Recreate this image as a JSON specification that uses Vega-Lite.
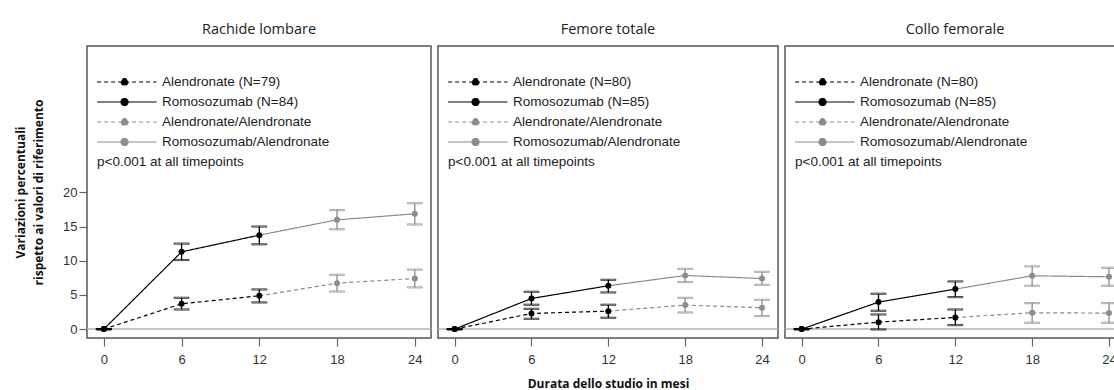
{
  "$schema": "https://vega.github.io/schema/vega-lite/v6.json",
  "background": "white",
  "padding": {"left": 13, "top": 20, "right": 0, "bottom": 0},
  "spacing": 7,
  "bounds": "flush",
  "config": {
    "view": {"stroke": "#555555", "strokeWidth": 1.5},
    "font": "Liberation Sans",
    "title": {"font": "Open Sans", "fontSize": 14.5, "fontWeight": "normal", "color": "#222222", "offset": 9},
    "axis": {"grid": false, "domain": false, "tickColor": "#666666", "tickSize": 8, "tickWidth": 1.2, "labelFont": "Liberation Sans", "labelFontSize": 13, "labelColor": "#333333", "titleFont": "Open Sans", "titleFontSize": 12, "titleFontWeight": "bold", "titleColor": "#111111"},
    "axisX": {"labelPadding": 7},
    "axisY": {"labelPadding": 2}
  },
  "resolve": {"scale": {"x": "independent", "y": "independent", "color": "independent", "strokeDash": "independent", "stroke": "independent", "fill": "independent"}},
  "data": {"values": [
    {"site": "RL", "series": "Alendronate (N=79)", "phase": 1, "month": 0, "mean": 0, "lo": 0, "hi": 0},
    {"site": "RL", "series": "Alendronate (N=79)", "phase": 1, "month": 6, "mean": 3.7, "lo": 2.87, "hi": 4.58},
    {"site": "RL", "series": "Alendronate (N=79)", "phase": 1, "month": 12, "mean": 4.87, "lo": 3.9, "hi": 5.8},
    {"site": "RL", "series": "Alendronate/Alendronate", "phase": 2, "month": 12, "mean": 4.87, "lo": 3.9, "hi": 5.8},
    {"site": "RL", "series": "Alendronate/Alendronate", "phase": 2, "month": 18, "mean": 6.72, "lo": 5.5, "hi": 7.94},
    {"site": "RL", "series": "Alendronate/Alendronate", "phase": 2, "month": 24, "mean": 7.4, "lo": 6.1, "hi": 8.7},
    {"site": "RL", "series": "Romosozumab (N=84)", "phase": 1, "month": 0, "mean": 0, "lo": 0, "hi": 0},
    {"site": "RL", "series": "Romosozumab (N=84)", "phase": 1, "month": 6, "mean": 11.3, "lo": 10.1, "hi": 12.5},
    {"site": "RL", "series": "Romosozumab (N=84)", "phase": 1, "month": 12, "mean": 13.74, "lo": 12.4, "hi": 15.0},
    {"site": "RL", "series": "Romosozumab/Alendronate", "phase": 2, "month": 12, "mean": 13.74, "lo": 12.4, "hi": 15.0},
    {"site": "RL", "series": "Romosozumab/Alendronate", "phase": 2, "month": 18, "mean": 15.98, "lo": 14.6, "hi": 17.4},
    {"site": "RL", "series": "Romosozumab/Alendronate", "phase": 2, "month": 24, "mean": 16.86, "lo": 15.3, "hi": 18.4},
    {"site": "FT", "series": "Alendronate (N=80)", "phase": 1, "month": 0, "mean": 0, "lo": 0, "hi": 0},
    {"site": "FT", "series": "Alendronate (N=80)", "phase": 1, "month": 6, "mean": 2.29, "lo": 1.51, "hi": 2.97},
    {"site": "FT", "series": "Alendronate (N=80)", "phase": 1, "month": 12, "mean": 2.63, "lo": 1.66, "hi": 3.56},
    {"site": "FT", "series": "Alendronate/Alendronate", "phase": 2, "month": 12, "mean": 2.63, "lo": 1.66, "hi": 3.56},
    {"site": "FT", "series": "Alendronate/Alendronate", "phase": 2, "month": 18, "mean": 3.51, "lo": 2.43, "hi": 4.58},
    {"site": "FT", "series": "Alendronate/Alendronate", "phase": 2, "month": 24, "mean": 3.12, "lo": 1.9, "hi": 4.29},
    {"site": "FT", "series": "Romosozumab (N=85)", "phase": 1, "month": 0, "mean": 0, "lo": 0, "hi": 0},
    {"site": "FT", "series": "Romosozumab (N=85)", "phase": 1, "month": 6, "mean": 4.48, "lo": 3.56, "hi": 5.46},
    {"site": "FT", "series": "Romosozumab (N=85)", "phase": 1, "month": 12, "mean": 6.34, "lo": 5.36, "hi": 7.21},
    {"site": "FT", "series": "Romosozumab/Alendronate", "phase": 2, "month": 12, "mean": 6.34, "lo": 5.36, "hi": 7.21},
    {"site": "FT", "series": "Romosozumab/Alendronate", "phase": 2, "month": 18, "mean": 7.84, "lo": 6.87, "hi": 8.82},
    {"site": "FT", "series": "Romosozumab/Alendronate", "phase": 2, "month": 24, "mean": 7.4, "lo": 6.48, "hi": 8.38},
    {"site": "CF", "series": "Alendronate (N=80)", "phase": 1, "month": 0, "mean": 0, "lo": 0, "hi": 0},
    {"site": "CF", "series": "Alendronate (N=80)", "phase": 1, "month": 6, "mean": 1.02, "lo": -0.05, "hi": 2.14},
    {"site": "CF", "series": "Alendronate (N=80)", "phase": 1, "month": 12, "mean": 1.7, "lo": 0.58, "hi": 2.87},
    {"site": "CF", "series": "Alendronate/Alendronate", "phase": 2, "month": 12, "mean": 1.7, "lo": 0.58, "hi": 2.87},
    {"site": "CF", "series": "Alendronate/Alendronate", "phase": 2, "month": 18, "mean": 2.39, "lo": 0.93, "hi": 3.8},
    {"site": "CF", "series": "Alendronate/Alendronate", "phase": 2, "month": 24, "mean": 2.34, "lo": 0.93, "hi": 3.8},
    {"site": "CF", "series": "Romosozumab (N=85)", "phase": 1, "month": 0, "mean": 0, "lo": 0, "hi": 0},
    {"site": "CF", "series": "Romosozumab (N=85)", "phase": 1, "month": 6, "mean": 3.95, "lo": 2.68, "hi": 5.17},
    {"site": "CF", "series": "Romosozumab (N=85)", "phase": 1, "month": 12, "mean": 5.85, "lo": 4.68, "hi": 6.97},
    {"site": "CF", "series": "Romosozumab/Alendronate", "phase": 2, "month": 12, "mean": 5.85, "lo": 4.68, "hi": 6.97},
    {"site": "CF", "series": "Romosozumab/Alendronate", "phase": 2, "month": 18, "mean": 7.8, "lo": 6.34, "hi": 9.17},
    {"site": "CF", "series": "Romosozumab/Alendronate", "phase": 2, "month": 24, "mean": 7.65, "lo": 6.34, "hi": 8.97}
  ]},
  "hconcat": [
    {
      "width": 344, "height": 292,
      "title": "Rachide lombare",
      "layer": [
        {"data": {"values": [{}]}, "mark": {"type": "rule", "color": "#b4b4b4", "strokeWidth": 1.5}, "encoding": {"y": {"datum": 0, "type": "quantitative", "scale": {"domain": [-1.3, 41.4], "nice": false, "zero": false}, "axis": {"values": [0, 5, 10, 15, 20], "title": ["Variazioni percentuali", "rispetto ai valori di riferimento"], "titlePadding": 17, "titleLineHeight": 18}}}},
        {"transform": [{"filter": "datum.site === 'RL'"}], "mark": {"type": "line", "strokeWidth": 1.2},
         "encoding": {
           "x": {"field": "month", "type": "quantitative", "scale": {"domain": [-1.3, 25.25], "nice": false, "zero": false}, "axis": {"values": [0, 6, 12, 18, 24], "title": null}},
           "y": {"field": "mean", "type": "quantitative", "scale": {"domain": [-1.3, 41.4], "nice": false, "zero": false}, "axis": {"values": [0, 5, 10, 15, 20], "title": ["Variazioni percentuali", "rispetto ai valori di riferimento"], "titlePadding": 17, "titleLineHeight": 18}},
           "color": {"field": "series", "type": "nominal", "scale": {"domain": ["Alendronate (N=79)", "Romosozumab (N=84)", "Alendronate/Alendronate", "Romosozumab/Alendronate"], "range": ["#000000", "#000000", "#8c8c8c", "#8c8c8c"]},
             "legend": {"orient": "none", "legendX": 10, "legendY": 26, "padding": 0, "title": "p<0.001 at all timepoints", "titleOrient": "bottom", "titleAnchor": "start", "titleFont": "Liberation Sans", "titleFontSize": 13.5, "titleFontWeight": "normal", "titleColor": "#222222", "titlePadding": 6, "titleLimit": 400, "symbolType": "M-1.1,0L5.5,0M1.56,0A0.39,0.39 0 1,0 2.34,0A0.39,0.39 0 1,0 1.56,0Z", "symbolSize": 324, "symbolStrokeWidth": 1.2, "labelFont": "Liberation Sans", "labelFontSize": 13.5, "labelColor": "#222222", "labelOffset": 45, "labelLimit": 400, "rowPadding": 3, "encode": {"symbols": {"update": {"fill": {"signal": "indexof(datum.value,'/')>=0 ? '#8c8c8c' : '#000000'"}, "fillOpacity": {"value": 1}}}}}},
           "strokeDash": {"field": "series", "type": "nominal", "scale": {"domain": ["Alendronate (N=79)", "Romosozumab (N=84)", "Alendronate/Alendronate", "Romosozumab/Alendronate"], "range": [[4, 3], [1, 0], [4, 3], [1, 0]]},
             "legend": {"orient": "none", "legendX": 10, "legendY": 26, "padding": 0, "title": "p<0.001 at all timepoints", "titleOrient": "bottom", "titleAnchor": "start", "titleFont": "Liberation Sans", "titleFontSize": 13.5, "titleFontWeight": "normal", "titleColor": "#222222", "titlePadding": 6, "titleLimit": 400, "symbolType": "M-1.1,0L5.5,0M1.56,0A0.39,0.39 0 1,0 2.34,0A0.39,0.39 0 1,0 1.56,0Z", "symbolSize": 324, "symbolStrokeWidth": 1.2, "labelFont": "Liberation Sans", "labelFontSize": 13.5, "labelColor": "#222222", "labelOffset": 45, "labelLimit": 400, "rowPadding": 3, "encode": {"symbols": {"update": {"fill": {"signal": "indexof(datum.value,'/')>=0 ? '#8c8c8c' : '#000000'"}, "fillOpacity": {"value": 1}}}}}}
         }},
        {"transform": [{"filter": "datum.site === 'RL'"}, {"filter": "datum.phase === 1 || datum.month >= 18"}], "mark": {"type": "rule", "strokeWidth": 1.3},
         "encoding": {
           "x": {"field": "month", "type": "quantitative", "scale": {"domain": [-1.3, 25.25], "nice": false, "zero": false}, "axis": {"values": [0, 6, 12, 18, 24], "title": null}},
           "y": {"field": "lo", "type": "quantitative", "scale": {"domain": [-1.3, 41.4], "nice": false, "zero": false}, "axis": {"values": [0, 5, 10, 15, 20], "title": ["Variazioni percentuali", "rispetto ai valori di riferimento"], "titlePadding": 17, "titleLineHeight": 18}},
           "y2": {"field": "hi"},
           "stroke": {"field": "phase", "type": "nominal", "scale": {"domain": [1, 2], "range": ["#000000", "#8c8c8c"]}, "legend": null}
         }},
        {"transform": [{"filter": "datum.site === 'RL'"}, {"filter": "datum.phase === 1 || datum.month >= 18"}, {"fold": ["lo", "hi"], "as": ["bound", "val"]}], "mark": {"type": "tick", "orient": "horizontal", "size": 15, "thickness": 1.2},
         "encoding": {
           "x": {"field": "month", "type": "quantitative", "scale": {"domain": [-1.3, 25.25], "nice": false, "zero": false}, "axis": {"values": [0, 6, 12, 18, 24], "title": null}},
           "y": {"field": "val", "type": "quantitative", "scale": {"domain": [-1.3, 41.4], "nice": false, "zero": false}, "axis": {"values": [0, 5, 10, 15, 20], "title": ["Variazioni percentuali", "rispetto ai valori di riferimento"], "titlePadding": 17, "titleLineHeight": 18}},
           "stroke": {"field": "phase", "type": "nominal", "scale": {"domain": [1, 2], "range": ["#000000", "#8c8c8c"]}, "legend": null},
           "color": {"value": null}
         }},
        {"transform": [{"filter": "datum.site === 'RL'"}, {"filter": "datum.phase === 1 || datum.month >= 18"}], "mark": {"type": "circle", "size": 36, "opacity": 1},
         "encoding": {
           "x": {"field": "month", "type": "quantitative", "scale": {"domain": [-1.3, 25.25], "nice": false, "zero": false}, "axis": {"values": [0, 6, 12, 18, 24], "title": null}},
           "y": {"field": "mean", "type": "quantitative", "scale": {"domain": [-1.3, 41.4], "nice": false, "zero": false}, "axis": {"values": [0, 5, 10, 15, 20], "title": ["Variazioni percentuali", "rispetto ai valori di riferimento"], "titlePadding": 17, "titleLineHeight": 18}},
           "fill": {"field": "phase", "type": "nominal", "scale": {"domain": [1, 2], "range": ["#000000", "#8c8c8c"]}, "legend": null}
         }}
      ]
    },
    {
      "width": 340, "height": 292,
      "title": "Femore totale",
      "layer": [
        {"data": {"values": [{}]}, "mark": {"type": "rule", "color": "#b4b4b4", "strokeWidth": 1.5}, "encoding": {"y": {"datum": 0, "type": "quantitative", "scale": {"domain": [-1.3, 41.4], "nice": false, "zero": false}, "axis": null}}},
        {"transform": [{"filter": "datum.site === 'FT'"}], "mark": {"type": "line", "strokeWidth": 1.2},
         "encoding": {
           "x": {"field": "month", "type": "quantitative", "scale": {"domain": [-1.3, 25.25], "nice": false, "zero": false}, "axis": {"values": [0, 6, 12, 18, 24], "title": "Durata dello studio in mesi", "titlePadding": 12}},
           "y": {"field": "mean", "type": "quantitative", "scale": {"domain": [-1.3, 41.4], "nice": false, "zero": false}, "axis": null},
           "color": {"field": "series", "type": "nominal", "scale": {"domain": ["Alendronate (N=80)", "Romosozumab (N=85)", "Alendronate/Alendronate", "Romosozumab/Alendronate"], "range": ["#000000", "#000000", "#8c8c8c", "#8c8c8c"]},
             "legend": {"orient": "none", "legendX": 10, "legendY": 26, "padding": 0, "title": "p<0.001 at all timepoints", "titleOrient": "bottom", "titleAnchor": "start", "titleFont": "Liberation Sans", "titleFontSize": 13.5, "titleFontWeight": "normal", "titleColor": "#222222", "titlePadding": 6, "titleLimit": 400, "symbolType": "M-1.1,0L5.5,0M1.56,0A0.39,0.39 0 1,0 2.34,0A0.39,0.39 0 1,0 1.56,0Z", "symbolSize": 324, "symbolStrokeWidth": 1.2, "labelFont": "Liberation Sans", "labelFontSize": 13.5, "labelColor": "#222222", "labelOffset": 45, "labelLimit": 400, "rowPadding": 3, "encode": {"symbols": {"update": {"fill": {"signal": "indexof(datum.value,'/')>=0 ? '#8c8c8c' : '#000000'"}, "fillOpacity": {"value": 1}}}}}},
           "strokeDash": {"field": "series", "type": "nominal", "scale": {"domain": ["Alendronate (N=80)", "Romosozumab (N=85)", "Alendronate/Alendronate", "Romosozumab/Alendronate"], "range": [[4, 3], [1, 0], [4, 3], [1, 0]]},
             "legend": {"orient": "none", "legendX": 10, "legendY": 26, "padding": 0, "title": "p<0.001 at all timepoints", "titleOrient": "bottom", "titleAnchor": "start", "titleFont": "Liberation Sans", "titleFontSize": 13.5, "titleFontWeight": "normal", "titleColor": "#222222", "titlePadding": 6, "titleLimit": 400, "symbolType": "M-1.1,0L5.5,0M1.56,0A0.39,0.39 0 1,0 2.34,0A0.39,0.39 0 1,0 1.56,0Z", "symbolSize": 324, "symbolStrokeWidth": 1.2, "labelFont": "Liberation Sans", "labelFontSize": 13.5, "labelColor": "#222222", "labelOffset": 45, "labelLimit": 400, "rowPadding": 3, "encode": {"symbols": {"update": {"fill": {"signal": "indexof(datum.value,'/')>=0 ? '#8c8c8c' : '#000000'"}, "fillOpacity": {"value": 1}}}}}}
         }},
        {"transform": [{"filter": "datum.site === 'FT'"}, {"filter": "datum.phase === 1 || datum.month >= 18"}], "mark": {"type": "rule", "strokeWidth": 1.3},
         "encoding": {
           "x": {"field": "month", "type": "quantitative", "scale": {"domain": [-1.3, 25.25], "nice": false, "zero": false}, "axis": {"values": [0, 6, 12, 18, 24], "title": "Durata dello studio in mesi", "titlePadding": 12}},
           "y": {"field": "lo", "type": "quantitative", "scale": {"domain": [-1.3, 41.4], "nice": false, "zero": false}, "axis": null},
           "y2": {"field": "hi"},
           "stroke": {"field": "phase", "type": "nominal", "scale": {"domain": [1, 2], "range": ["#000000", "#8c8c8c"]}, "legend": null}
         }},
        {"transform": [{"filter": "datum.site === 'FT'"}, {"filter": "datum.phase === 1 || datum.month >= 18"}, {"fold": ["lo", "hi"], "as": ["bound", "val"]}], "mark": {"type": "tick", "orient": "horizontal", "size": 15, "thickness": 1.2},
         "encoding": {
           "x": {"field": "month", "type": "quantitative", "scale": {"domain": [-1.3, 25.25], "nice": false, "zero": false}, "axis": {"values": [0, 6, 12, 18, 24], "title": "Durata dello studio in mesi", "titlePadding": 12}},
           "y": {"field": "val", "type": "quantitative", "scale": {"domain": [-1.3, 41.4], "nice": false, "zero": false}, "axis": null},
           "stroke": {"field": "phase", "type": "nominal", "scale": {"domain": [1, 2], "range": ["#000000", "#8c8c8c"]}, "legend": null},
           "color": {"value": null}
         }},
        {"transform": [{"filter": "datum.site === 'FT'"}, {"filter": "datum.phase === 1 || datum.month >= 18"}], "mark": {"type": "circle", "size": 36, "opacity": 1},
         "encoding": {
           "x": {"field": "month", "type": "quantitative", "scale": {"domain": [-1.3, 25.25], "nice": false, "zero": false}, "axis": {"values": [0, 6, 12, 18, 24], "title": "Durata dello studio in mesi", "titlePadding": 12}},
           "y": {"field": "mean", "type": "quantitative", "scale": {"domain": [-1.3, 41.4], "nice": false, "zero": false}, "axis": null},
           "fill": {"field": "phase", "type": "nominal", "scale": {"domain": [1, 2], "range": ["#000000", "#8c8c8c"]}, "legend": null}
         }}
      ]
    },
    {
      "width": 340, "height": 292,
      "title": "Collo femorale",
      "layer": [
        {"data": {"values": [{}]}, "mark": {"type": "rule", "color": "#b4b4b4", "strokeWidth": 1.5}, "encoding": {"y": {"datum": 0, "type": "quantitative", "scale": {"domain": [-1.3, 41.4], "nice": false, "zero": false}, "axis": null}}},
        {"transform": [{"filter": "datum.site === 'CF'"}], "mark": {"type": "line", "strokeWidth": 1.2},
         "encoding": {
           "x": {"field": "month", "type": "quantitative", "scale": {"domain": [-1.3, 25.25], "nice": false, "zero": false}, "axis": {"values": [0, 6, 12, 18, 24], "title": null}},
           "y": {"field": "mean", "type": "quantitative", "scale": {"domain": [-1.3, 41.4], "nice": false, "zero": false}, "axis": null},
           "color": {"field": "series", "type": "nominal", "scale": {"domain": ["Alendronate (N=80)", "Romosozumab (N=85)", "Alendronate/Alendronate", "Romosozumab/Alendronate"], "range": ["#000000", "#000000", "#8c8c8c", "#8c8c8c"]},
             "legend": {"orient": "none", "legendX": 10, "legendY": 26, "padding": 0, "title": "p<0.001 at all timepoints", "titleOrient": "bottom", "titleAnchor": "start", "titleFont": "Liberation Sans", "titleFontSize": 13.5, "titleFontWeight": "normal", "titleColor": "#222222", "titlePadding": 6, "titleLimit": 400, "symbolType": "M-1.1,0L5.5,0M1.56,0A0.39,0.39 0 1,0 2.34,0A0.39,0.39 0 1,0 1.56,0Z", "symbolSize": 324, "symbolStrokeWidth": 1.2, "labelFont": "Liberation Sans", "labelFontSize": 13.5, "labelColor": "#222222", "labelOffset": 45, "labelLimit": 400, "rowPadding": 3, "encode": {"symbols": {"update": {"fill": {"signal": "indexof(datum.value,'/')>=0 ? '#8c8c8c' : '#000000'"}, "fillOpacity": {"value": 1}}}}}},
           "strokeDash": {"field": "series", "type": "nominal", "scale": {"domain": ["Alendronate (N=80)", "Romosozumab (N=85)", "Alendronate/Alendronate", "Romosozumab/Alendronate"], "range": [[4, 3], [1, 0], [4, 3], [1, 0]]},
             "legend": {"orient": "none", "legendX": 10, "legendY": 26, "padding": 0, "title": "p<0.001 at all timepoints", "titleOrient": "bottom", "titleAnchor": "start", "titleFont": "Liberation Sans", "titleFontSize": 13.5, "titleFontWeight": "normal", "titleColor": "#222222", "titlePadding": 6, "titleLimit": 400, "symbolType": "M-1.1,0L5.5,0M1.56,0A0.39,0.39 0 1,0 2.34,0A0.39,0.39 0 1,0 1.56,0Z", "symbolSize": 324, "symbolStrokeWidth": 1.2, "labelFont": "Liberation Sans", "labelFontSize": 13.5, "labelColor": "#222222", "labelOffset": 45, "labelLimit": 400, "rowPadding": 3, "encode": {"symbols": {"update": {"fill": {"signal": "indexof(datum.value,'/')>=0 ? '#8c8c8c' : '#000000'"}, "fillOpacity": {"value": 1}}}}}}
         }},
        {"transform": [{"filter": "datum.site === 'CF'"}, {"filter": "datum.phase === 1 || datum.month >= 18"}], "mark": {"type": "rule", "strokeWidth": 1.3},
         "encoding": {
           "x": {"field": "month", "type": "quantitative", "scale": {"domain": [-1.3, 25.25], "nice": false, "zero": false}, "axis": {"values": [0, 6, 12, 18, 24], "title": null}},
           "y": {"field": "lo", "type": "quantitative", "scale": {"domain": [-1.3, 41.4], "nice": false, "zero": false}, "axis": null},
           "y2": {"field": "hi"},
           "stroke": {"field": "phase", "type": "nominal", "scale": {"domain": [1, 2], "range": ["#000000", "#8c8c8c"]}, "legend": null}
         }},
        {"transform": [{"filter": "datum.site === 'CF'"}, {"filter": "datum.phase === 1 || datum.month >= 18"}, {"fold": ["lo", "hi"], "as": ["bound", "val"]}], "mark": {"type": "tick", "orient": "horizontal", "size": 15, "thickness": 1.2},
         "encoding": {
           "x": {"field": "month", "type": "quantitative", "scale": {"domain": [-1.3, 25.25], "nice": false, "zero": false}, "axis": {"values": [0, 6, 12, 18, 24], "title": null}},
           "y": {"field": "val", "type": "quantitative", "scale": {"domain": [-1.3, 41.4], "nice": false, "zero": false}, "axis": null},
           "stroke": {"field": "phase", "type": "nominal", "scale": {"domain": [1, 2], "range": ["#000000", "#8c8c8c"]}, "legend": null},
           "color": {"value": null}
         }},
        {"transform": [{"filter": "datum.site === 'CF'"}, {"filter": "datum.phase === 1 || datum.month >= 18"}], "mark": {"type": "circle", "size": 36, "opacity": 1},
         "encoding": {
           "x": {"field": "month", "type": "quantitative", "scale": {"domain": [-1.3, 25.25], "nice": false, "zero": false}, "axis": {"values": [0, 6, 12, 18, 24], "title": null}},
           "y": {"field": "mean", "type": "quantitative", "scale": {"domain": [-1.3, 41.4], "nice": false, "zero": false}, "axis": null},
           "fill": {"field": "phase", "type": "nominal", "scale": {"domain": [1, 2], "range": ["#000000", "#8c8c8c"]}, "legend": null}
         }}
      ]
    }
  ]
}
